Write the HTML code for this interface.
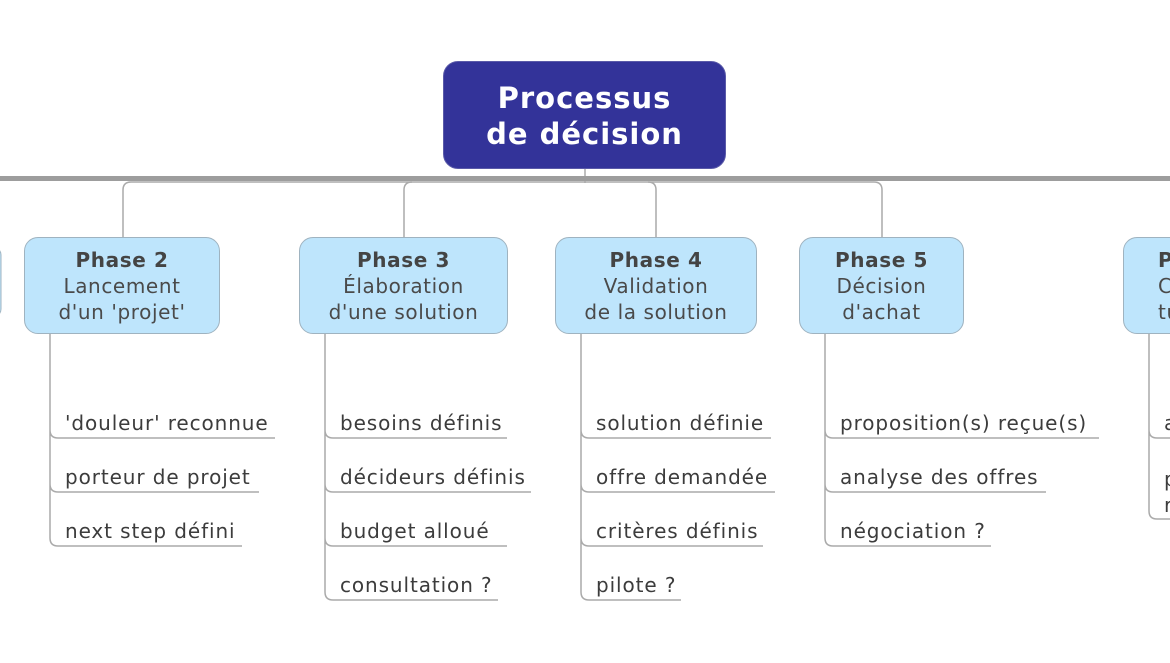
<!DOCTYPE html>
<html><head><meta charset="utf-8"><style>
body{margin:0;width:1170px;height:663px;overflow:hidden;background:#fff;font-family:"DejaVu Sans","Liberation Sans",sans-serif}
#w{position:absolute;left:0;top:0;width:1170px;height:663px;overflow:hidden}
.b{position:absolute;background:#bee5fc;border:1px solid #9fb3c0;border-radius:14px;box-sizing:border-box;text-align:center;color:#4a4a4a;font-size:20px;letter-spacing:0.6px;line-height:26px;padding-top:9px;white-space:nowrap;overflow:hidden}
.b b{color:#444}
.t{position:absolute;font-size:20px;letter-spacing:0.9px;color:#3c3c3c;white-space:nowrap;line-height:22px}
</style></head><body><div id="w">
<svg width="1170" height="663" style="position:absolute;left:0;top:0">
<g fill="none" stroke="#aaa" stroke-width="1.5">
<path d="M585 168V183"/>
<path d="M123 237V190q0-8 8-8H874q8 0 8 8V237"/>
<path d="M404 237V190q0-8 8-8"/>
<path d="M656 237V190q0-8-8-8"/>
<path d="M50 334V430q0 8 8 8H275M50 430V484q0 8 8 8H259M50 484V538q0 8 8 8H242"/>
<path d="M325 334V430q0 8 8 8H507M325 430V484q0 8 8 8H531M325 484V538q0 8 8 8H507M325 538V592q0 8 8 8H498"/>
<path d="M581 334V430q0 8 8 8H771M581 430V484q0 8 8 8H775M581 484V538q0 8 8 8H763M581 538V592q0 8 8 8H681"/>
<path d="M825 334V430q0 8 8 8H1099M825 430V484q0 8 8 8H1046M825 484V538q0 8 8 8H991"/>
<path d="M1149 334V430q0 8 8 8H1170M1149 430V511q0 8 8 8H1170"/>
</g>
<rect x="0" y="176" width="1170" height="5" fill="#9d9d9d"/>
<rect x="-25" y="247" width="26" height="70" rx="8" fill="#bee5fc" stroke="#9fb3c0"/>
</svg>
<div style="position:absolute;left:443px;top:61px;width:283px;height:108px;background:#333399;border:1px solid #5a5aa8;border-radius:15px;box-sizing:border-box;color:#fff;font-weight:bold;font-size:29px;letter-spacing:1px;line-height:36px;text-align:center;padding-top:18px">Processus<br>de décision</div>
<div class="b" style="left:24px;top:237px;width:196px;height:97px"><b>Phase 2</b><br>Lancement<br>d'un 'projet'</div>
<div class="b" style="left:299px;top:237px;width:209px;height:97px"><b>Phase 3</b><br>Élaboration<br>d'une solution</div>
<div class="b" style="left:555px;top:237px;width:202px;height:97px"><b>Phase 4</b><br>Validation<br>de la solution</div>
<div class="b" style="left:799px;top:237px;width:165px;height:97px"><b>Phase 5</b><br>Décision<br>d'achat</div>
<div class="b" style="left:1123px;top:237px;width:120px;height:97px;text-align:left;padding-left:34px"><b>Phase 6</b><br>C<br>tu</div>
<div class="t" style="left:65px;top:412px">'douleur' reconnue</div>
<div class="t" style="left:65px;top:466px">porteur de projet</div>
<div class="t" style="left:65px;top:520px">next step défini</div>
<div class="t" style="left:340px;top:412px">besoins définis</div>
<div class="t" style="left:340px;top:466px">décideurs définis</div>
<div class="t" style="left:340px;top:520px">budget alloué</div>
<div class="t" style="left:340px;top:574px">consultation ?</div>
<div class="t" style="left:596px;top:412px">solution définie</div>
<div class="t" style="left:596px;top:466px">offre demandée</div>
<div class="t" style="left:596px;top:520px">critères définis</div>
<div class="t" style="left:596px;top:574px">pilote ?</div>
<div class="t" style="left:840px;top:412px">proposition(s) reçue(s)</div>
<div class="t" style="left:840px;top:466px">analyse des offres</div>
<div class="t" style="left:840px;top:520px">négociation ?</div>
<div class="t" style="left:1164px;top:412px">a</div>
<div class="t" style="left:1164px;top:466px;line-height:26px">p<br>r</div>
</div></body></html>
